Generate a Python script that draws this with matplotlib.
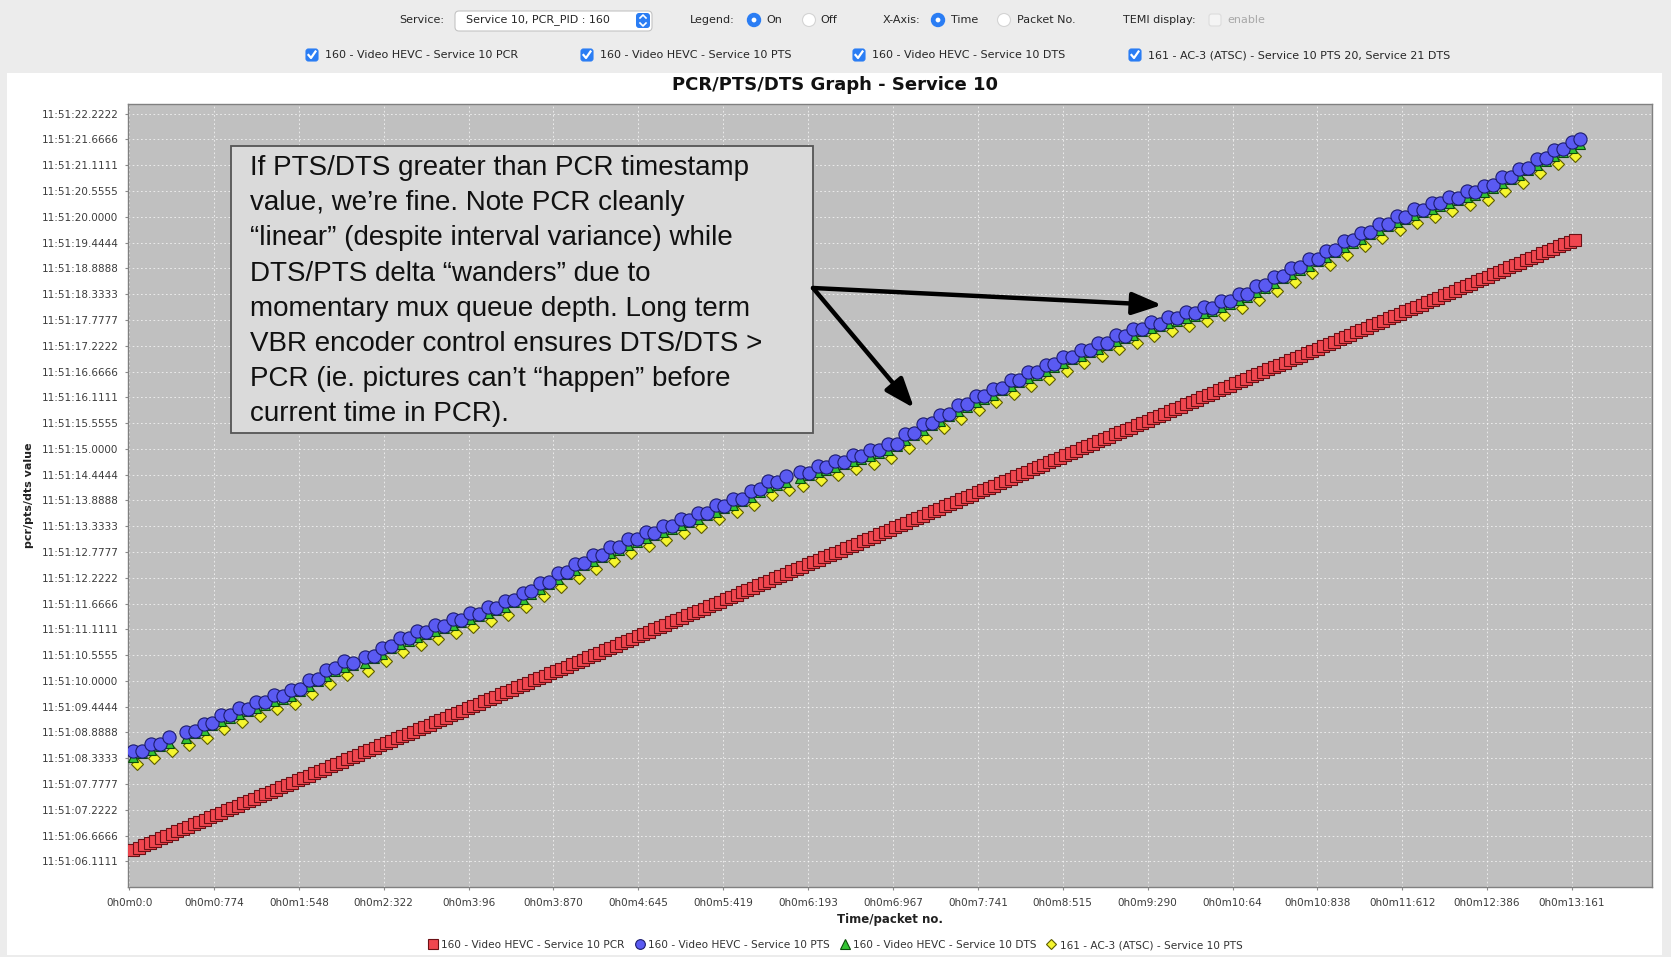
import matplotlib
matplotlib.use('Agg')
import matplotlib.pyplot as plt
from matplotlib.patches import Rectangle, FancyBboxPatch, Circle, FancyArrowPatch
from matplotlib.lines import Line2D
from matplotlib.transforms import IdentityTransform

W, H = 1671, 957

# ---- data (seconds after 11:51:00 on y, elapsed seconds on x) ----

pcr_t = [0.04, 0.09, 0.14, 0.19, 0.24, 0.29, 0.34, 0.39, 0.44, 0.49,
         0.54, 0.59, 0.64, 0.69, 0.74, 0.79, 0.84, 0.89, 0.94, 0.99,
         1.04, 1.09, 1.14, 1.19, 1.24, 1.29, 1.34, 1.39, 1.44, 1.49,
         1.54, 1.59, 1.64, 1.69, 1.74, 1.79, 1.84, 1.89, 1.94, 1.99,
         2.04, 2.09, 2.14, 2.19, 2.24, 2.29, 2.34, 2.39, 2.44, 2.49,
         2.54, 2.59, 2.64, 2.69, 2.74, 2.79, 2.84, 2.89, 2.94, 2.99,
         3.04, 3.09, 3.14, 3.19, 3.24, 3.29, 3.34, 3.39, 3.44, 3.49,
         3.54, 3.59, 3.64, 3.69, 3.74, 3.79, 3.84, 3.89, 3.94, 3.99,
         4.04, 4.09, 4.14, 4.19, 4.24, 4.29, 4.34, 4.39, 4.44, 4.49,
         4.54, 4.59, 4.64, 4.69, 4.74, 4.79, 4.84, 4.89, 4.94, 4.99,
         5.04, 5.09, 5.14, 5.19, 5.24, 5.29, 5.34, 5.39, 5.44, 5.49,
         5.54, 5.59, 5.64, 5.69, 5.74, 5.79, 5.84, 5.89, 5.94, 5.99,
         6.04, 6.09, 6.14, 6.19, 6.24, 6.29, 6.34, 6.39, 6.44, 6.49,
         6.54, 6.59, 6.64, 6.69, 6.74, 6.79, 6.84, 6.89, 6.94, 6.99,
         7.04, 7.09, 7.14, 7.19, 7.24, 7.29, 7.34, 7.39, 7.44, 7.49,
         7.54, 7.59, 7.64, 7.69, 7.74, 7.79, 7.84, 7.89, 7.94, 7.99,
         8.04, 8.09, 8.14, 8.19, 8.24, 8.29, 8.34, 8.39, 8.44, 8.49,
         8.54, 8.59, 8.64, 8.69, 8.74, 8.79, 8.84, 8.89, 8.94, 8.99,
         9.04, 9.09, 9.14, 9.19, 9.24, 9.29, 9.34, 9.39, 9.44, 9.49,
         9.54, 9.59, 9.64, 9.69, 9.74, 9.79, 9.84, 9.89, 9.94, 9.99,
         10.04, 10.09, 10.14, 10.19, 10.24, 10.29, 10.34, 10.39, 10.44, 10.49,
         10.54, 10.59, 10.64, 10.69, 10.74, 10.79, 10.84, 10.89, 10.94, 10.99,
         11.04, 11.09, 11.14, 11.19, 11.24, 11.29, 11.34, 11.39, 11.44, 11.49,
         11.54, 11.59, 11.64, 11.69, 11.74, 11.79, 11.84, 11.89, 11.94, 11.99,
         12.04, 12.09, 12.14, 12.19, 12.24, 12.29, 12.34, 12.39, 12.44, 12.49,
         12.54, 12.59, 12.64, 12.69, 12.74, 12.79, 12.84, 12.89, 12.94, 12.99,
         13.04, 13.09, 13.14, 13.19]

pcr_v = [6.36, 6.41, 6.46, 6.51, 6.56, 6.61, 6.66, 6.71, 6.76, 6.81,
         6.86, 6.91, 6.96, 7.01, 7.06, 7.11, 7.16, 7.21, 7.26, 7.31,
         7.36, 7.41, 7.46, 7.51, 7.56, 7.61, 7.66, 7.71, 7.76, 7.81,
         7.86, 7.91, 7.96, 8.01, 8.06, 8.11, 8.16, 8.21, 8.26, 8.31,
         8.36, 8.41, 8.46, 8.51, 8.56, 8.61, 8.66, 8.71, 8.76, 8.81,
         8.86, 8.91, 8.96, 9.01, 9.06, 9.11, 9.16, 9.21, 9.26, 9.31,
         9.36, 9.41, 9.46, 9.51, 9.56, 9.61, 9.66, 9.71, 9.76, 9.81,
         9.86, 9.91, 9.96, 10.01, 10.06, 10.11, 10.16, 10.21, 10.26, 10.31,
         10.36, 10.41, 10.46, 10.51, 10.56, 10.61, 10.66, 10.71, 10.76, 10.81,
         10.86, 10.91, 10.96, 11.01, 11.06, 11.11, 11.16, 11.21, 11.26, 11.31,
         11.36, 11.41, 11.46, 11.51, 11.56, 11.61, 11.66, 11.71, 11.76, 11.81,
         11.86, 11.91, 11.96, 12.01, 12.06, 12.11, 12.16, 12.21, 12.26, 12.31,
         12.36, 12.41, 12.46, 12.51, 12.56, 12.61, 12.66, 12.71, 12.76, 12.81,
         12.86, 12.91, 12.96, 13.01, 13.06, 13.11, 13.16, 13.21, 13.26, 13.31,
         13.36, 13.41, 13.46, 13.51, 13.56, 13.61, 13.66, 13.71, 13.76, 13.81,
         13.86, 13.91, 13.96, 14.01, 14.06, 14.11, 14.16, 14.21, 14.26, 14.31,
         14.36, 14.41, 14.46, 14.51, 14.56, 14.61, 14.66, 14.71, 14.76, 14.81,
         14.86, 14.91, 14.96, 15.01, 15.06, 15.11, 15.16, 15.21, 15.26, 15.31,
         15.36, 15.41, 15.46, 15.51, 15.56, 15.61, 15.66, 15.71, 15.76, 15.81,
         15.86, 15.91, 15.96, 16.01, 16.06, 16.11, 16.16, 16.21, 16.26, 16.31,
         16.36, 16.41, 16.46, 16.51, 16.56, 16.61, 16.66, 16.71, 16.76, 16.81,
         16.86, 16.91, 16.96, 17.01, 17.06, 17.11, 17.16, 17.21, 17.26, 17.31,
         17.36, 17.41, 17.46, 17.51, 17.56, 17.61, 17.66, 17.71, 17.76, 17.81,
         17.86, 17.91, 17.96, 18.01, 18.06, 18.11, 18.16, 18.21, 18.26, 18.31,
         18.36, 18.41, 18.46, 18.51, 18.56, 18.61, 18.66, 18.71, 18.76, 18.81,
         18.86, 18.91, 18.96, 19.01, 19.06, 19.11, 19.16, 19.21, 19.26, 19.31,
         19.36, 19.41, 19.46, 19.51]

# PTS and DTS of the video PID share packet times
pes_t = [0.04, 0.12, 0.20, 0.28, 0.36,
         0.52, 0.60, 0.68, 0.76, 0.84, 0.92, 1.00, 1.08, 1.16, 1.24,
         1.32, 1.40, 1.48, 1.56, 1.64, 1.72, 1.80, 1.88, 1.96, 2.04,
         2.15, 2.23, 2.31, 2.39, 2.47, 2.55, 2.63, 2.71, 2.79, 2.87,
         2.95, 3.03, 3.11, 3.19, 3.27, 3.35, 3.43, 3.51, 3.59, 3.67,
         3.75, 3.83, 3.91, 3.99, 4.07, 4.15, 4.23, 4.31, 4.39, 4.47,
         4.55, 4.63, 4.71, 4.79, 4.87, 4.95, 5.03, 5.11, 5.19, 5.27,
         5.35, 5.43, 5.51, 5.59, 5.67, 5.75, 5.83, 5.91, 5.99,
         6.12, 6.20, 6.28, 6.36, 6.44, 6.52, 6.60, 6.68, 6.76, 6.84,
         6.92, 7.00, 7.08, 7.16, 7.24, 7.32, 7.40, 7.48, 7.56, 7.64,
         7.72, 7.80, 7.88, 7.96, 8.04, 8.12, 8.20, 8.28, 8.36, 8.44,
         8.52, 8.60, 8.68, 8.76, 8.84, 8.92, 9.00, 9.08, 9.16, 9.24,
         9.32, 9.40, 9.48, 9.56, 9.64, 9.72, 9.80, 9.88, 9.96, 10.04,
         10.12, 10.20, 10.28, 10.36, 10.44, 10.52, 10.60, 10.68, 10.76, 10.84,
         10.92, 11.00, 11.08, 11.16, 11.24, 11.32, 11.40, 11.48, 11.56, 11.64,
         11.72, 11.80, 11.88, 11.96, 12.04, 12.12, 12.20, 12.28, 12.36, 12.44,
         12.52, 12.60, 12.68, 12.76, 12.84, 12.92, 13.00, 13.08, 13.16, 13.23]

pts_v = [8.50, 8.50, 8.65, 8.65, 8.80,
         8.91, 8.92, 9.08, 9.09, 9.26, 9.26, 9.41, 9.40, 9.55, 9.54,
         9.69, 9.67, 9.81, 9.83, 10.02, 10.04, 10.23, 10.27, 10.42, 10.39,
         10.51, 10.54, 10.72, 10.75, 10.93, 10.92, 11.07, 11.06, 11.20, 11.19,
         11.34, 11.32, 11.47, 11.45, 11.59, 11.57, 11.73, 11.74, 11.90, 11.93,
         12.12, 12.14, 12.33, 12.35, 12.52, 12.54, 12.71, 12.72, 12.88, 12.88,
         13.05, 13.05, 13.20, 13.19, 13.34, 13.33, 13.48, 13.47, 13.62, 13.62,
         13.78, 13.77, 13.93, 13.93, 14.10, 14.13, 14.30, 14.28, 14.42,
         14.51, 14.49, 14.63, 14.60, 14.74, 14.72, 14.86, 14.84, 14.98, 14.97,
         15.11, 15.11, 15.31, 15.34, 15.53, 15.56, 15.74, 15.76, 15.94, 15.96,
         16.13, 16.13, 16.30, 16.31, 16.48, 16.48, 16.65, 16.65, 16.81, 16.82,
         16.98, 16.98, 17.14, 17.14, 17.29, 17.29, 17.45, 17.44, 17.59, 17.58,
         17.73, 17.70, 17.84, 17.81, 17.94, 17.92, 18.06, 18.03, 18.18, 18.18,
         18.33, 18.33, 18.50, 18.52, 18.70, 18.73, 18.90, 18.91, 19.08, 19.09,
         19.27, 19.29, 19.47, 19.49, 19.66, 19.67, 19.84, 19.85, 20.01, 20.00,
         20.16, 20.15, 20.30, 20.29, 20.43, 20.41, 20.55, 20.53, 20.67, 20.68,
         20.85, 20.86, 21.03, 21.05, 21.24, 21.26, 21.44, 21.45, 21.62, 21.68]

dts_v = [8.37, 8.45, 8.52, 8.60, 8.67,
         8.78, 8.87, 8.95, 9.04, 9.13, 9.21, 9.28, 9.35, 9.42, 9.49,
         9.56, 9.62, 9.68, 9.78, 9.89, 9.99, 10.10, 10.22, 10.29, 10.34,
         10.38, 10.49, 10.59, 10.70, 10.80, 10.87, 10.94, 11.01, 11.07, 11.14,
         11.21, 11.27, 11.34, 11.40, 11.46, 11.52, 11.60, 11.69, 11.77, 11.88,
         11.99, 12.09, 12.20, 12.30, 12.39, 12.49, 12.58, 12.67, 12.75, 12.83,
         12.92, 13.00, 13.07, 13.14, 13.21, 13.28, 13.35, 13.42, 13.49, 13.57,
         13.65, 13.72, 13.80, 13.88, 13.97, 14.08, 14.17, 14.23, 14.29,
         14.38, 14.44, 14.50, 14.55, 14.61, 14.67, 14.73, 14.79, 14.85, 14.92,
         14.98, 15.06, 15.18, 15.29, 15.40, 15.51, 15.61, 15.71, 15.81, 15.91,
         16.00, 16.08, 16.17, 16.26, 16.35, 16.43, 16.52, 16.60, 16.68, 16.77,
         16.85, 16.93, 17.01, 17.09, 17.16, 17.24, 17.32, 17.39, 17.46, 17.53,
         17.60, 17.65, 17.71, 17.76, 17.81, 17.87, 17.93, 17.98, 18.05, 18.13,
         18.20, 18.28, 18.37, 18.47, 18.57, 18.68, 18.77, 18.86, 18.95, 19.04,
         19.14, 19.24, 19.34, 19.44, 19.53, 19.62, 19.71, 19.80, 19.88, 19.95,
         20.03, 20.10, 20.17, 20.24, 20.30, 20.36, 20.42, 20.48, 20.54, 20.63,
         20.72, 20.81, 20.90, 21.00, 21.11, 21.21, 21.31, 21.40, 21.49, 21.57]

ac3_t = [0.07, 0.23, 0.39,
         0.55, 0.71, 0.87, 1.03, 1.19, 1.35, 1.51, 1.67, 1.83, 1.99,
         2.18, 2.34, 2.50, 2.66, 2.82, 2.98, 3.14, 3.30, 3.46, 3.62,
         3.78, 3.94, 4.10, 4.26, 4.42, 4.58, 4.74, 4.90, 5.06, 5.22,
         5.38, 5.54, 5.70, 5.86, 6.02,
         6.15, 6.31, 6.47, 6.63, 6.79, 6.95, 7.11, 7.27, 7.43, 7.59,
         7.75, 7.91, 8.07, 8.23, 8.39, 8.55, 8.71, 8.87, 9.03, 9.19,
         9.35, 9.51, 9.67, 9.83, 9.99, 10.15, 10.31, 10.47, 10.63, 10.79,
         10.95, 11.11, 11.27, 11.43, 11.59, 11.75, 11.91, 12.07, 12.23, 12.39,
         12.55, 12.71, 12.87, 13.03, 13.19]

ac3_v = [8.20, 8.35, 8.50,
         8.61, 8.78, 8.96, 9.11, 9.25, 9.39, 9.51, 9.72, 9.93, 10.12,
         10.21, 10.42, 10.63, 10.77, 10.90, 11.04, 11.17, 11.29, 11.43, 11.60,
         11.82, 12.03, 12.22, 12.41, 12.58, 12.75, 12.90, 13.04, 13.18, 13.32,
         13.48, 13.63, 13.80, 14.00, 14.12,
         14.21, 14.33, 14.44, 14.56, 14.68, 14.81, 15.01, 15.23, 15.44, 15.64,
         15.83, 16.00, 16.18, 16.35, 16.51, 16.68, 16.84, 16.99, 17.15, 17.29,
         17.43, 17.54, 17.64, 17.76, 17.88, 18.03, 18.20, 18.40, 18.60, 18.78,
         18.97, 19.17, 19.36, 19.54, 19.71, 19.86, 20.00, 20.13, 20.25, 20.37,
         20.55, 20.73, 20.94, 21.14, 21.32]

y_ticklabels = ['11:51:06.1111', '11:51:06.6666', '11:51:07.2222', '11:51:07.7777',
                '11:51:08.3333', '11:51:08.8888', '11:51:09.4444', '11:51:10.0000',
                '11:51:10.5555', '11:51:11.1111', '11:51:11.6666', '11:51:12.2222',
                '11:51:12.7777', '11:51:13.3333', '11:51:13.8888', '11:51:14.4444',
                '11:51:15.0000', '11:51:15.5555', '11:51:16.1111', '11:51:16.6666',
                '11:51:17.2222', '11:51:17.7777', '11:51:18.3333', '11:51:18.8888',
                '11:51:19.4444', '11:51:20.0000', '11:51:20.5555', '11:51:21.1111',
                '11:51:21.6666', '11:51:22.2222']

x_ticklabels = ['0h0m0:0', '0h0m0:774', '0h0m1:548', '0h0m2:322', '0h0m3:96',
                '0h0m3:870', '0h0m4:645', '0h0m5:419', '0h0m6:193', '0h0m6:967',
                '0h0m7:741', '0h0m8:515', '0h0m9:290', '0h0m10:64', '0h0m10:838',
                '0h0m11:612', '0h0m12:386', '0h0m13:161']

series_names = ['160 - Video HEVC - Service 10 PCR',
                '160 - Video HEVC - Service 10 PTS',
                '160 - Video HEVC - Service 10 DTS',
                '161 - AC-3 (ATSC) - Service 10 PTS']

note_lines = ['If PTS/DTS greater than PCR timestamp',
              'value, we\u2019re fine. Note PCR cleanly',
              '\u201clinear\u201d (despite interval variance) while',
              'DTS/PTS delta \u201cwanders\u201d due to',
              'momentary mux queue depth. Long term',
              'VBR encoder control ensures DTS/DTS >',
              'PCR (ie. pictures can\u2019t \u201chappen\u201d before',
              'current time in PCR).']

y_ticks = [float(s[6:]) for s in y_ticklabels]
x_ticks = [float(s.split('m')[1].split(':')[0]) + int(s.split(':')[1]) / 1000.0
           for s in x_ticklabels]

# ---- figure ----

fig = plt.figure(figsize=(W / 100, H / 100), dpi=100, facecolor='#ececec')
PX = IdentityTransform()

# white chart panel
fig.add_artist(Rectangle((7, H - 955), 1655, 882, transform=PX,
                         facecolor='white', edgecolor='none', zorder=-5))

ax = fig.add_axes([128 / W, 1 - 887 / H, (1652 - 128) / W, (887 - 104) / H])
ax.set_facecolor('#c0c0c0')
ax.set_axisbelow(True)

red = dict(ls='None', marker='s', ms=8, mfc='#f0464f', mec='#6b1015', mew=0.8)
blue = dict(ls='None', marker='o', ms=9.5, mfc='#5a5af2', mec='#1c1c6e', mew=0.8)
green = dict(ls='None', marker='^', ms=7.5, mfc='#33c433', mec='#0b4d0b', mew=0.8)
yellow = dict(ls='None', marker='D', ms=6, mfc='#f5f52e', mec='#5c5c00', mew=0.8)

ax.plot(ac3_t, ac3_v, zorder=2, **yellow)
ax.plot(pes_t, dts_v, zorder=3, **green)
ax.plot(pes_t, pts_v, zorder=4, **blue)
ax.plot(pcr_t, pcr_v, zorder=5, **red)

ax.set_xlim(-0.01, 13.89)
ax.set_ylim(5.56, 22.43)
ax.set_xticks(x_ticks)
ax.set_xticklabels(x_ticklabels)
ax.set_yticks(y_ticks)
ax.set_yticklabels(y_ticklabels)
ax.tick_params(axis='both', length=2, width=0.8, color='#8a8a8a',
               labelsize=7.5, labelcolor='#3c3c3c')
ax.tick_params(axis='y', pad=5)
ax.tick_params(axis='x', pad=6)
ax.grid(True, color='white', linestyle=(0, (2, 3)), linewidth=0.6, alpha=0.8)
for sp in ax.spines.values():
    sp.set_color('#808080')
    sp.set_linewidth(1.0)

# titles / labels
fig.text(835 / W, 1 - 85 / H, 'PCR/PTS/DTS Graph - Service 10', ha='center', va='center',
         fontsize=13, fontweight='bold', color='#111111')
fig.text(29 / W, 1 - 495 / H, 'pcr/pts/dts value', rotation=90, ha='center', va='center',
         fontsize=8, fontweight='bold', color='#222222')
fig.text(890 / W, 1 - 919 / H, 'Time/packet no.', ha='center', va='center',
         fontsize=8.5, fontweight='bold', color='#222222')

# legend
handles = [Line2D([], [], **dict(red, ms=6.5)), Line2D([], [], **dict(blue, ms=7)),
           Line2D([], [], **dict(green, ms=6.5)), Line2D([], [], **dict(yellow, ms=5.5))]
fig.legend(handles, series_names, loc='center', bbox_to_anchor=(835 / W, 1 - 945 / H),
           ncol=4, frameon=False, fontsize=7.6, handletextpad=0.3, columnspacing=0.9,
           handlelength=1.0, borderaxespad=0, labelcolor='#333333')

# annotation box + arrows
fig.add_artist(Rectangle((231, H - 433), 582, 287, transform=PX, facecolor='#dadada',
                         edgecolor='#555555', linewidth=1.3, zorder=6))
for i, line in enumerate(note_lines):
    fig.text(250, H - (175 + i * 35.2), line, transform=PX, fontsize=20,
             family='Liberation Sans', color='#111111', va='baseline', zorder=7)

for tip in [(1162, H - 305), (914, H - 408)]:
    fig.add_artist(FancyArrowPatch((813, H - 288), tip, transform=PX,
                                   arrowstyle='-|>,head_length=0.45,head_width=0.17',
                                   mutation_scale=40, lw=3.2, color='black',
                                   shrinkA=0, shrinkB=0, zorder=8))


# ---- control bar on top ----

def txt(x, y, s, **kw):
    kw.setdefault('fontsize', 8)
    kw.setdefault('color', '#262626')
    kw.setdefault('va', 'center')
    fig.text(x, H - y, s, transform=PX, **kw)


def radio(x, y, on):
    if on:
        fig.add_artist(Circle((x, H - y), 6.5, transform=PX, fc='#2a7df4', ec='#2a7df4'))
        fig.add_artist(Circle((x, H - y), 2.4, transform=PX, fc='white', ec='none'))
    else:
        fig.add_artist(Circle((x, H - y), 6.5, transform=PX, fc='white', ec='#d4d4d4', lw=0.8))


def checkbox(x, y, on=True):
    fc, ec = ('#2a7df4', '#2a7df4') if on else ('#f4f4f4', '#dcdcdc')
    fig.add_artist(FancyBboxPatch((x - 6, H - y - 6), 12, 12, transform=PX,
                                  boxstyle='round,pad=0,rounding_size=2.5',
                                  fc=fc, ec=ec, lw=0.8))
    if on:
        fig.add_artist(Line2D([x - 3.5, x - 1, x + 3.5], [H - y, H - y - 3, H - y + 3.5],
                              transform=PX, color='white', lw=1.6))


txt(444, 20, 'Service:', ha='right')
fig.add_artist(FancyBboxPatch((455, H - 31), 197, 20, transform=PX,
                              boxstyle='round,pad=0,rounding_size=4',
                              fc='white', ec='#c4c4c4', lw=0.8))
txt(466, 20, 'Service 10, PCR_PID : 160')
fig.add_artist(FancyBboxPatch((636, H - 28), 14, 15, transform=PX,
                              boxstyle='round,pad=0,rounding_size=3',
                              fc='#2a7df4', ec='none'))
fig.add_artist(Line2D([640, 643, 646], [H - 18, H - 15, H - 18], transform=PX, color='white', lw=1.2))
fig.add_artist(Line2D([640, 643, 646], [H - 23, H - 26, H - 23], transform=PX, color='white', lw=1.2))

txt(735, 20, 'Legend:', ha='right')
radio(754, 20, True)
txt(766, 20, 'On')
radio(809, 20, False)
txt(820, 20, 'Off')
txt(920, 20, 'X-Axis:', ha='right')
radio(938, 20, True)
txt(951, 20, 'Time')
radio(1004, 20, False)
txt(1017, 20, 'Packet No.')
txt(1196, 20, 'TEMI display:', ha='right')
checkbox(1215, 20, on=False)
txt(1227, 20, 'enable', color='#a8a8a8')

checkbox(312, 55)
txt(325, 55, '160 - Video HEVC - Service 10 PCR')
checkbox(587, 55)
txt(600, 55, '160 - Video HEVC - Service 10 PTS')
checkbox(859, 55)
txt(872, 55, '160 - Video HEVC - Service 10 DTS')
checkbox(1135, 55)
txt(1148, 55, '161 - AC-3 (ATSC) - Service 10 PTS 20, Service 21 DTS')

plt.savefig('out.png', dpi=100, facecolor=fig.get_facecolor())
